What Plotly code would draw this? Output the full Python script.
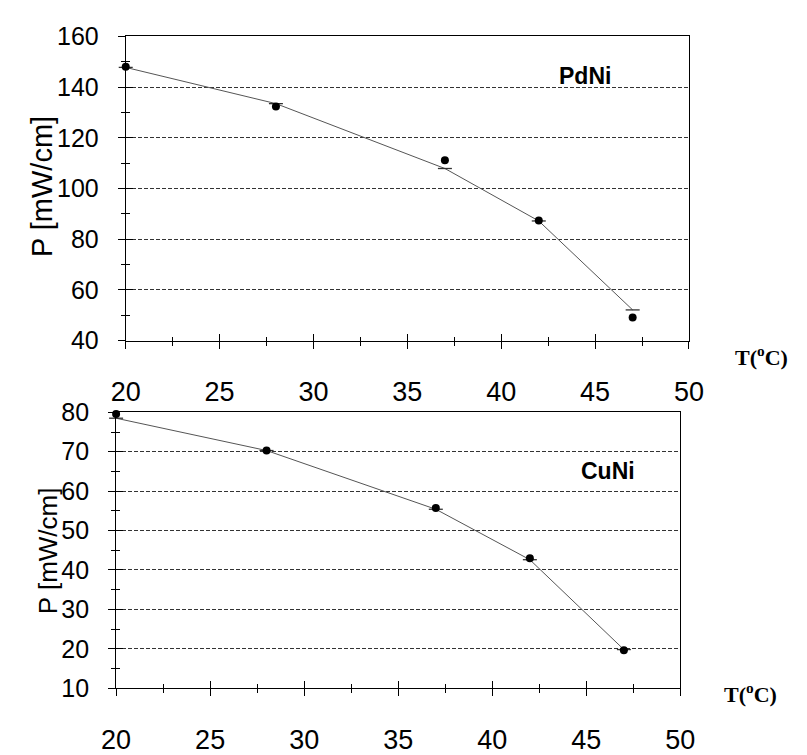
import plotly.graph_objects as go

W, H = 807, 755

# Temperatures (°C)
temps = [20, 28, 37, 42, 47]

# PdNi: measured power and fitted curve (mW/cm)
pdni_meas = [148.1, 132.4, 111.2, 87.4, 49.1]
pdni_fit = [147.8, 133.5, 107.9, 87.2, 52.1]

# CuNi: measured power and fitted curve (mW/cm)
cuni_meas = [79.6, 70.3, 55.7, 43.0, 19.6]
cuni_fit = [78.5, 70.3, 55.4, 42.6, 19.8]

x_ticks = [20, 25, 30, 35, 40, 45, 50]
pdni_yticks = [40, 60, 80, 100, 120, 140, 160]
cuni_yticks = [10, 20, 30, 40, 50, 60, 70, 80]

FONT = "Liberation Sans, Arial, sans-serif"
SERIF = "Liberation Serif, Times New Roman, serif"


def px_x(p):
    return p / W


def px_y(p):
    return 1 - p / H


fig = go.Figure()

# fitted curves (thin grey line with short dash markers)
for xa, ya, fit in (("x", "y", pdni_fit), ("x2", "y2", cuni_fit)):
    fig.add_trace(go.Scatter(
        x=temps, y=fit, xaxis=xa, yaxis=ya, mode="lines+markers",
        line=dict(color="#555555", width=1),
        marker=dict(symbol="line-ew", size=10,
                    line=dict(color="#333333", width=1.3)),
        cliponaxis=False, showlegend=False, hoverinfo="skip"))

# measured points
for xa, ya, meas in (("x3", "y3", pdni_meas), ("x4", "y4", cuni_meas)):
    fig.add_trace(go.Scatter(
        x=temps, y=meas, xaxis=xa, yaxis=ya, mode="markers",
        marker=dict(symbol="circle", size=8, color="black"),
        cliponaxis=False, showlegend=False))

top_xdom = [px_x(115), px_x(700)]
top_ydom = [px_y(341.5), px_y(23.5)]
bot_xdom = [px_x(105), px_x(691)]
bot_ydom = [px_y(705), px_y(416.5)]


def x_main(dom, anchor):
    return dict(domain=dom, range=[20, 50], anchor=anchor,
                tickvals=x_ticks, ticks="outside", ticklen=7, tickwidth=1,
                tickcolor="black", showline=True, linecolor="black",
                linewidth=1, mirror=True, showgrid=False, zeroline=False,
                minor=dict(ticks="outside", ticklen=4, dtick=2.5,
                           tickcolor="black", showgrid=False),
                tickfont=dict(family=FONT, size=27, color="black"),
                ticklabelstandoff=20)


def x_over(dom, over, anchor):
    return dict(domain=dom, range=[20, 50], anchor=anchor, overlaying=over,
                tickvals=x_ticks, ticks="inside", ticklen=7, tickwidth=1,
                tickcolor="black", showline=False, showgrid=False,
                zeroline=False, showticklabels=False,
                minor=dict(ticks="inside", ticklen=4, dtick=2.5,
                           tickcolor="black", showgrid=False))


def y_main(dom, anchor, rng, vals, minor):
    return dict(domain=dom, range=rng, anchor=anchor,
                tickvals=vals, ticks="outside", ticklen=7, tickwidth=1,
                tickcolor="black", showline=True, linecolor="black",
                linewidth=1, mirror=True, showgrid=True,
                gridcolor="#333333", griddash="4px,2px", gridwidth=1,
                zeroline=False,
                minor=dict(ticks="outside", ticklen=4, dtick=minor,
                           tickcolor="black", showgrid=False),
                tickfont=dict(family=FONT, size=25, color="black"),
                ticklabelstandoff=14)


def y_over(dom, over, anchor, rng, vals, minor):
    return dict(domain=dom, range=rng, anchor=anchor, overlaying=over,
                tickvals=vals, ticks="inside", ticklen=7, tickwidth=1,
                tickcolor="black", showline=False, showgrid=False,
                zeroline=False, showticklabels=False,
                minor=dict(ticks="inside", ticklen=4, dtick=minor,
                           tickcolor="black", showgrid=False))


fig.update_layout(
    width=W, height=H, margin=dict(l=0, r=0, t=0, b=0),
    paper_bgcolor="white", plot_bgcolor="white",
    xaxis=x_main(top_xdom, "y"),
    yaxis=y_main(top_ydom, "x", [40, 160], pdni_yticks, 10),
    xaxis2=x_main(bot_xdom, "y2"),
    yaxis2=y_main(bot_ydom, "x2", [10, 80], cuni_yticks, 5),
    xaxis3=x_over(top_xdom, "x", "y3"),
    yaxis3=y_over(top_ydom, "y", "x3", [40, 160], pdni_yticks, 10),
    xaxis4=x_over(bot_xdom, "x2", "y4"),
    yaxis4=y_over(bot_ydom, "y2", "x4", [10, 80], cuni_yticks, 5),
    annotations=[
        dict(text="P [mW/cm]", x=px_x(28), y=px_y(180), xref="paper",
             yref="paper", textangle=-90, showarrow=False,
             xanchor="center", yanchor="middle",
             font=dict(family=FONT, size=29, color="black")),
        dict(text="P [mW/cm]", x=px_x(35), y=px_y(561), xref="paper",
             yref="paper", textangle=-90, showarrow=False,
             xanchor="center", yanchor="middle",
             font=dict(family=FONT, size=26, color="black")),
        dict(text="<b>PdNi</b>", x=px_x(592), y=px_y(65), xref="paper",
             yref="paper", showarrow=False, xanchor="center",
             yanchor="middle", font=dict(family=FONT, size=23, color="black")),
        dict(text="<b>CuNi</b>", x=px_x(616), y=px_y(478), xref="paper",
             yref="paper", showarrow=False, xanchor="center",
             yanchor="middle", font=dict(family=FONT, size=23, color="black")),
        dict(text="<b>T(<sup>o</sup>C)</b>", x=px_x(775), y=px_y(358),
             xref="paper", yref="paper", showarrow=False, xanchor="center",
             yanchor="middle", font=dict(family=SERIF, size=22, color="black")),
        dict(text="<b>T(<sup>o</sup>C)</b>", x=px_x(764), y=px_y(710),
             xref="paper", yref="paper", showarrow=False, xanchor="center",
             yanchor="middle", font=dict(family=SERIF, size=22, color="black")),
    ],
)

fig.write_html("out.html")
